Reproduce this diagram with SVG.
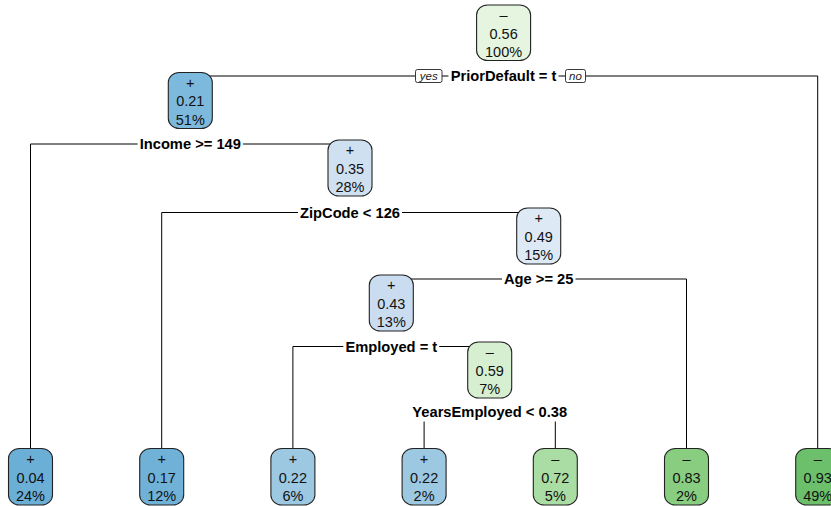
<svg xmlns="http://www.w3.org/2000/svg" width="831" height="506" viewBox="0 0 831 506">
<style>
.box{stroke:#222;stroke-width:1.1}
.nt{font-family:"Liberation Sans",Arial,sans-serif;font-size:14.5px;fill:#111;text-anchor:middle}
.sp{font-family:"Liberation Sans",Arial,sans-serif;font-size:14.7px;font-weight:bold;fill:#000;text-anchor:middle}
.yn{fill:#fff;stroke:#222;stroke-width:0.9}
.ynt{font-family:"Liberation Sans",Arial,sans-serif;font-size:11.5px;font-style:italic;fill:#222;text-anchor:middle}
.ln{fill:none;stroke:#000;stroke-width:1}
</style>
<rect width="831" height="506" fill="#fff"/>
<g id="connectors">
<path class="ln" d="M190.3,76 H415.5 M442,76 H448.5 M558.5,76 H565.5 M585.5,76 H817.7 V448.5"/>
<path class="ln" d="M30.5,448.5 V144 H137.6 M242.9,144 H350"/>
<path class="ln" d="M161.7,448.5 V212.5 H298 M402,212.5 H538.7"/>
<path class="ln" d="M391.3,279 H502 M575.5,279 H686.5 V448.5"/>
<path class="ln" d="M292.9,448.5 V346.5 H343.3 M439.2,346.5 H489.7"/>
<path class="ln" d="M424.1,421.5 V448.5 M555.3,421.5 V448.5"/>
</g>
<g id="labels">
<g id="yes-no">
<rect class="yn" x="415.5" y="69.5" width="26.5" height="13" rx="2"/>
<text class="ynt" x="428.7" y="80">yes</text>
<rect class="yn" x="565.5" y="69.5" width="20" height="13" rx="2"/>
<text class="ynt" x="575.5" y="80">no</text>
</g>
<text id="split1" class="sp" x="503.6" y="81.3">PriorDefault = t</text>
<text id="split2" class="sp" x="190.3" y="149.3">Income &gt;= 149</text>
<text id="split3" class="sp" x="350" y="217.8">ZipCode &lt; 126</text>
<text id="split5" class="sp" x="538.7" y="284.3">Age &gt;= 25</text>
<text id="split6" class="sp" x="391.3" y="351.8">Employed = t</text>
<text id="split7" class="sp" x="489.7" y="416.8">YearsEmployed &lt; 0.38</text>
</g>
<g id="node-root">
<rect class="box" x="476.6" y="5" width="54" height="55.5" rx="11" ry="10" fill="#E5F5E0"/>
<text class="nt" x="503.6" y="20">–</text><text class="nt" x="503.6" y="38.5">0.56</text><text class="nt" x="503.6" y="57">100%</text>
</g>
<g id="node-2">
<rect class="box" x="168.3" y="72.5" width="44" height="56" rx="11" ry="10" fill="#7DB9DC"/>
<text class="nt" x="190.3" y="87.5">+</text><text class="nt" x="190.3" y="106">0.21</text><text class="nt" x="190.3" y="124.5">51%</text>
</g>
<g id="node-3">
<rect class="box" x="328" y="140" width="44" height="56" rx="11" ry="10" fill="#CFE0F1"/>
<text class="nt" x="350" y="155">+</text><text class="nt" x="350" y="173.5">0.35</text><text class="nt" x="350" y="192">28%</text>
</g>
<g id="node-5">
<rect class="box" x="516.7" y="208" width="44" height="56" rx="11" ry="10" fill="#DDEAF6"/>
<text class="nt" x="538.7" y="223">+</text><text class="nt" x="538.7" y="241.5">0.49</text><text class="nt" x="538.7" y="260">15%</text>
</g>
<g id="node-10">
<rect class="box" x="369.3" y="275" width="44" height="56" rx="11" ry="10" fill="#CADDF0"/>
<text class="nt" x="391.3" y="290">+</text><text class="nt" x="391.3" y="308.5">0.43</text><text class="nt" x="391.3" y="327">13%</text>
</g>
<g id="node-21">
<rect class="box" x="467.7" y="342" width="44" height="56" rx="11" ry="10" fill="#D6EFD0"/>
<text class="nt" x="489.7" y="357">–</text><text class="nt" x="489.7" y="375.5">0.59</text><text class="nt" x="489.7" y="394">7%</text>
</g>
<g id="leaf-4">
<rect class="box" x="8.5" y="448.5" width="44" height="56.5" rx="11" ry="10" fill="#6BAED6"/>
<text class="nt" x="30.5" y="464">+</text><text class="nt" x="30.5" y="482.5">0.04</text><text class="nt" x="30.5" y="501">24%</text>
</g>
<g id="leaf-6">
<rect class="box" x="139.7" y="448.5" width="44" height="56.5" rx="11" ry="10" fill="#70B1D8"/>
<text class="nt" x="161.7" y="464">+</text><text class="nt" x="161.7" y="482.5">0.17</text><text class="nt" x="161.7" y="501">12%</text>
</g>
<g id="leaf-20">
<rect class="box" x="270.9" y="448.5" width="44" height="56.5" rx="11" ry="10" fill="#9DC8E1"/>
<text class="nt" x="292.9" y="464">+</text><text class="nt" x="292.9" y="482.5">0.22</text><text class="nt" x="292.9" y="501">6%</text>
</g>
<g id="leaf-42">
<rect class="box" x="402.1" y="448.5" width="44" height="56.5" rx="11" ry="10" fill="#9DC8E1"/>
<text class="nt" x="424.1" y="464">+</text><text class="nt" x="424.1" y="482.5">0.22</text><text class="nt" x="424.1" y="501">2%</text>
</g>
<g id="leaf-43">
<rect class="box" x="533.3" y="448.5" width="44" height="56.5" rx="11" ry="10" fill="#AADDA3"/>
<text class="nt" x="555.3" y="464">–</text><text class="nt" x="555.3" y="482.5">0.72</text><text class="nt" x="555.3" y="501">5%</text>
</g>
<g id="leaf-11">
<rect class="box" x="664.5" y="448.5" width="44" height="56.5" rx="11" ry="10" fill="#88CD80"/>
<text class="nt" x="686.5" y="464">–</text><text class="nt" x="686.5" y="482.5">0.83</text><text class="nt" x="686.5" y="501">2%</text>
</g>
<g id="leaf-3">
<rect class="box" x="795.7" y="448.5" width="44" height="56.5" rx="11" ry="10" fill="#6CC06B"/>
<text class="nt" x="817.7" y="464">–</text><text class="nt" x="817.7" y="482.5">0.93</text><text class="nt" x="817.7" y="501">49%</text>
</g>
</svg>
